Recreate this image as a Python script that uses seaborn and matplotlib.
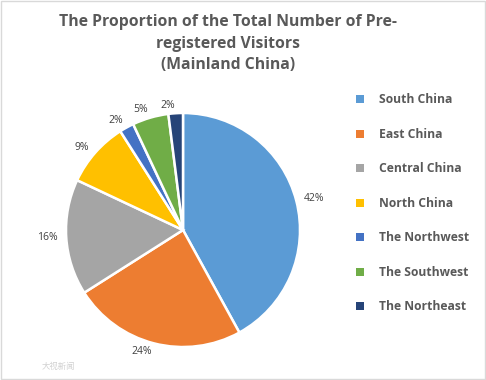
import numpy as np
import matplotlib
matplotlib.use('Agg')
import matplotlib.pyplot as plt
import matplotlib.patches as mpatches
import seaborn as sns

# dados
regioes = ['South China', 'East China', 'Central China', 'North China',
           'The Northwest', 'The Southwest', 'The Northeast']
proporcoes = [42, 24, 16, 9, 2, 5, 2]
cores = ['#5B9BD5', '#ED7D31', '#A5A5A5', '#FFC000', '#4472C4', '#70AD47', '#264478']
titulo = 'The Proportion of the Total Number of Pre-\nregistered Visitors\n(Mainland China)'

sns.set_theme(style='white')
plt.rcParams['font.family'] = ['Open Sans', 'DejaVu Sans']

fig = plt.figure(figsize=(4.86, 3.8), dpi=100)
fig.patch.set_facecolor('white')

# moldura cinza clara ao redor da figura
fig.patches.append(mpatches.Rectangle((0.002, 0.003), 0.995, 0.994, transform=fig.transFigure,
                                      fill=False, edgecolor='#D9D9D9', linewidth=1))

ax = fig.add_axes([0.1358, 0.0868, 0.4815, 0.6158])
wedges, textos = ax.pie(proporcoes, colors=cores, startangle=90, counterclock=False,
                        labels=[f'{p}%' for p in proporcoes], labeldistance=1.07,
                        wedgeprops={'edgecolor': 'white', 'linewidth': 1.8},
                        textprops={'fontsize': 7.5, 'color': '#404040'})
ax.set_xlim(-1, 1)
ax.set_ylim(-1, 1)
ax.set_aspect('equal')
ax.axis('off')

fig.text(0.47, 0.962, titulo, ha='center', va='top', fontsize=11.3, fontweight='bold',
         color='#595959', linespacing=1.45)

handles = [mpatches.Patch(facecolor=c, edgecolor='none') for c in cores]
fig.legend(handles, regioes, loc='upper left', bbox_to_anchor=(0.71, 0.783), frameon=False,
           handlelength=0.65, handleheight=0.65, handletextpad=1.3, labelspacing=1.78,
           prop={'size': 8.7, 'weight': 'bold'}, labelcolor='#595959')

# marca d'água
fig.text(0.085, 0.03, '大视新闻', fontsize=6, color='#D0D0D0',
         family=['Noto Sans CJK SC', 'DejaVu Sans'])

fig.savefig('out.png', dpi=100)
plt.close()
